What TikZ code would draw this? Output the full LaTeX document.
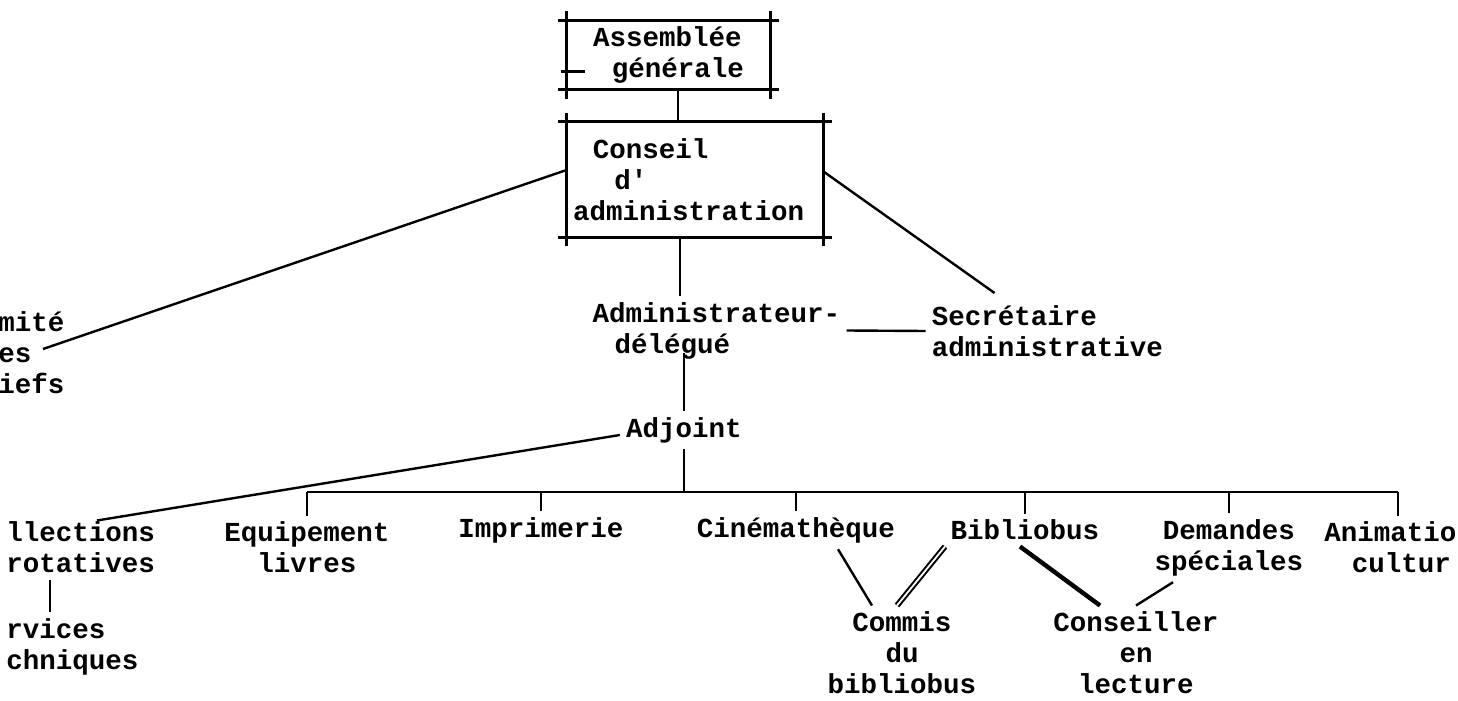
\documentclass[tikz,border=0pt]{standalone}
\usepackage{fontspec}
\setmonofont{Liberation Mono}
\usepackage{tikz}
\usetikzlibrary{calc}
\tikzstyle{typed}=[font=\ttfamily\bfseries\fontsize{13.75}{15.5}\selectfont, inner sep=3pt]
\tikzstyle{boxline}=[line width=1.5pt]
\tikzstyle{link}=[line width=1.2pt]
\tikzstyle{heavy}=[line width=2.2pt]
\newcommand{\crossbox}[2]{
	\draw[boxline] ($(#1.north west)+(-#2,0)$) -- ($(#1.north east)+(#2,0)$);
	\draw[boxline] ($(#1.south west)+(-#2,0)$) -- ($(#1.south east)+(#2,0)$);
	\draw[boxline] ($(#1.north west)+(0,-#2)$) -- ($(#1.south west)+(0,#2)$);
	\draw[boxline] ($(#1.north east)+(0,-#2)$) -- ($(#1.south east)+(0,#2)$);
}
\begin{document}
\begin{tikzpicture}[x=0.5pt,y=-0.5pt]
	\useasboundingbox (0,0) rectangle (1458,701);
	\node[typed, minimum width=101.5pt, minimum height=33pt, align=left] (assemblee) at (668.5,55) {Assemblée\\\hspace*{0.69em}générale};
	\crossbox{assemblee}{9}
	\draw[boxline] ($(assemblee.west)+(-6,17)$) -- ++(24,0);
	\node[typed, text width=122pt, minimum height=57.5pt, align=left] (conseil) at (695,179.5) {\hspace*{0.72em}Conseil\\\hspace*{1.5em}d'\\administration};
	\crossbox{conseil}{9}
	\node[typed, inner sep=0pt, align=left, anchor=west] (comite) at (-2,353) {mité\\es\\iefs};
	\node[typed, align=left] (admin) at (716.5,330.5) {Administrateur-\\\hspace*{0.8em}délégué};
	\node[typed, align=left] (secretaire) at (1047.5,331) {Secrétaire\\administrative};
	\node[typed] (adjoint) at (684,430) {Adjoint};
	\node[typed, align=left, anchor=west] (collections) at (0,547.5) {llections\\rotatives};
	\node[typed, align=left, anchor=west] (services) at (0,647) {rvices\\chniques};
	\node[typed, align=center] (equipement) at (307,547.5) {Equipement\\livres};
	\node[typed] (imprimerie) at (541,530) {Imprimerie};
	\node[typed] (cinematheque) at (796,530) {Cinémathèque};
	\node[typed] (bibliobus) at (1025,530) {Bibliobus};
	\node[typed, align=center] (demandes) at (1229,547.5) {Demandes\\spéciales};
	\node[typed, align=left, anchor=west] (animation) at (1318,547.5) {Animatio\\\hspace*{1em}cultur};
	\node[typed, align=center] (commis) at (902,653) {Commis\\du\\bibliobus};
	\node[typed, align=center] (conseiller) at (1136,653) {Conseiller\\en\\lecture};
	\coordinate (bar) at (0,492);
	\draw[link] ([xshift=4.75pt]assemblee.south) -- ([xshift=-8.5pt]conseil.north);
	\draw[link] ([yshift=4.75pt]conseil.west) -- ($(comite.west)+(45,-4)$);
	\draw[link] ([yshift=4pt]conseil.east) -- ($(secretaire.north west)+(69,-6)$);
	\draw[link] ([xshift=-7.5pt]conseil.south) -- ([xshift=-7.5pt]conseil.south |- admin.north);
	\draw[link] (admin.east) -- (secretaire.west);
	\draw[link] ([yshift=6pt]adjoint.north |- admin.south) -- (adjoint.north);
	\draw[link] ([yshift=-2.5pt]adjoint.west) -- ($(collections.north west)+(97,5)$);
	\draw[link] (adjoint.south) -- (adjoint.south |- bar);
	\draw[link] (equipement.north |- bar) -- ([xshift=40pt]animation.north west |- bar);
	\foreach \n in {equipement,imprimerie,cinematheque,bibliobus,demandes}
		\draw[link] (\n.north |- bar) -- (\n.north);
	\draw[link] ([xshift=40pt]animation.north west |- bar) -- ([xshift=40pt]animation.north west);
	\draw[link] ($(collections.south west)+(50,0)$) -- ($(services.north west)+(50,0)$);
	\draw[link] ([xshift=21pt]cinematheque.south) -- ([xshift=-15pt]commis.north);
	\draw[line width=1pt, double, double distance=0.9pt] ([xshift=-40pt]bibliobus.south) -- ([xshift=-2.5pt]commis.north);
	\draw[heavy] ([xshift=-2.5pt]bibliobus.south) -- ([xshift=-18pt]conseiller.north);
	\draw[link] ([xshift=-28pt]demandes.south) -- ([xshift=0pt]conseiller.north);
\end{tikzpicture}
\end{document}
